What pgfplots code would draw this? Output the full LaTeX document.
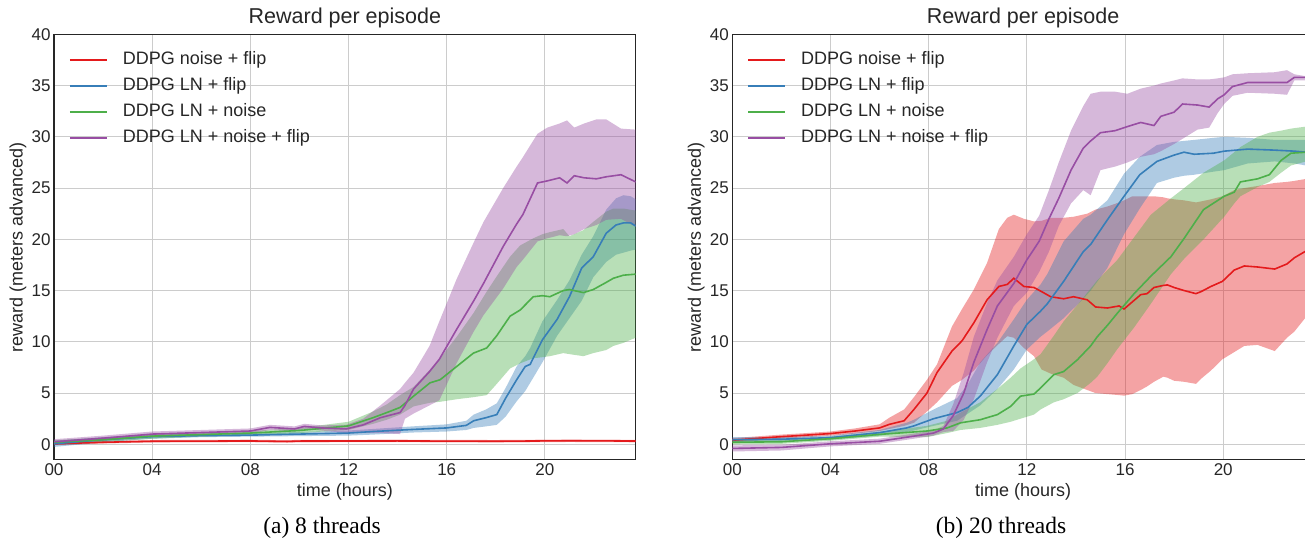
\documentclass[border=0pt]{standalone}
\usepackage{fontspec}
\setmainfont{Liberation Sans}
\newfontfamily\capfont{Liberation Serif}
\usepackage{pgfplots}
\pgfplotsset{compat=1.18}
\usepackage{pgfplotstable}
\usepgfplotslibrary{fillbetween}

\definecolor{cred}{HTML}{E41A1C}
\definecolor{cblue}{HTML}{377EB8}
\definecolor{cgreen}{HTML}{4DAF4A}
\definecolor{cpurple}{HTML}{984EA3}
\definecolor{txt}{HTML}{262626}
\definecolor{gridc}{HTML}{CCCCCC}

% ---- 8 threads: t, lower, mean, upper ----
\pgfplotstableread{
t lo m hi
0 -0.07 0.05 0.17
2 0.08 0.2 0.32
4 0.18 0.3 0.42
8 0.21 0.33 0.45
9.5 0.16 0.28 0.4
10 0.2 0.32 0.44
14 0.21 0.33 0.45
18 0.18 0.3 0.42
21 0.23 0.35 0.47
23.7 0.2 0.32 0.44
}\lRed
\pgfplotstableread{
t lo m hi
0 -0.25 0.05 0.35
2 0.2 0.45 0.7
4 0.55 0.75 0.95
6 0.7 0.85 1.05
8 0.75 0.9 1.1
10 0.8 1.0 1.2
12 0.85 1.1 1.35
13 0.95 1.25 1.5
14.6 1.15 1.45 1.75
16 1.25 1.6 1.95
16.8 1.4 1.85 2.3
17.1 1.6 2.3 2.9
17.6 1.75 2.6 3.4
18.04 1.9 2.9 4.0
18.4 2.7 4.5 5.5
18.85 4.2 6.3 7.6
19.2 5.2 7.6 8.6
19.4 6.0 7.8 9.4
19.9 8.0 10.2 12.0
20.5 10.6 12.2 14.1
21.0 12.3 14.4 16.0
21.5 14.0 17.2 18.5
21.97 16.3 18.3 20.3
22.5 17.8 20.6 22.9
22.9 18.5 21.4 24.0
23.2 18.7 21.6 24.3
23.5 18.9 21.6 24.2
23.7 19.0 21.3 23.9
}\lBlue
\pgfplotstableread{
t lo m hi
0 0.0 0.2 0.4
2 0.25 0.45 0.65
4 0.55 0.8 1.0
6 0.75 0.95 1.15
8 0.85 1.1 1.3
10 1.1 1.35 1.6
12 1.4 1.8 2.2
13 2.0 2.6 3.2
13.56 2.4 3.1 3.9
14.1 2.9 3.6 4.8
14.65 3.7 4.7 5.6
15.32 4.06 6.0 7.3
15.73 4.15 6.3 8.4
16.41 4.4 7.6 10.5
17.09 4.6 8.9 12.8
17.63 4.8 9.4 14.9
18.04 5.9 10.6 16.4
18.58 7.4 12.5 18.3
18.99 7.9 13.1 19.4
19.53 8.4 14.4 20.1
19.9 8.5 14.5 20.5
20.2 8.6 14.4 20.7
20.75 8.9 15.0 21.0
21.0 8.8 15.1 20.3
21.57 8.6 14.8 20.9
21.97 8.9 15.1 21.7
22.5 9.2 15.8 22.7
22.79 9.6 16.2 23.0
23.2 9.9 16.5 23.0
23.7 10.4 16.6 22.8
}\lGreen
\pgfplotstableread{
t lo m hi
0 0.0 0.25 0.5
2 0.35 0.6 0.85
4 0.75 1.0 1.25
6 0.95 1.15 1.4
8 1.05 1.3 1.55
8.8 1.4 1.65 1.9
9.8 1.25 1.5 1.75
10.2 1.5 1.75 2.0
10.9 1.35 1.6 1.85
11.9 1.1 1.5 1.9
12.6 1.1 1.9 2.5
13.3 1.1 2.6 3.8
14.1 1.0 3.1 5.4
14.3 2.5 3.8 6.0
14.65 3.0 5.4 7.0
15.3 3.8 7.1 9.6
15.7 4.3 8.3 12.0
16.4 7.9 11.2 16.1
17.1 11.0 14.0 19.7
17.5 12.6 15.7 21.7
18.3 15.2 19.3 25.0
18.85 17.3 21.5 27.1
19.1 18.0 22.4 28.0
19.7 19.8 25.5 30.3
20.1 20.1 25.7 30.9
20.6 20.4 26.0 31.3
20.9 20.3 25.5 31.6
21.2 20.5 26.2 30.9
21.6 21.0 26.0 31.3
22.1 21.4 25.9 31.7
22.5 21.9 26.1 31.7
23.1 22.0 26.3 30.8
23.7 21.2 25.6 30.7
}\lPurple

% ---- 20 threads ----
\pgfplotstableread{
t lo m hi
0 0.2 0.4 0.6
2 0.55 0.75 0.95
2.7 0.65 0.85 1.05
4 0.85 1.05 1.25
5 1.05 1.3 1.55
6 1.3 1.6 1.95
6.4 1.5 1.95 2.6
7.0 1.8 2.3 3.4
7.4 2.1 3.4 4.6
7.93 3.2 5.0 6.3
8.34 4.1 7.0 7.8
8.95 5.7 9.1 11.5
9.36 6.3 10.1 13.2
9.84 7.2 11.85 15.1
10.38 8.7 14.1 17.7
10.86 9.8 15.4 21.0
11.2 10.55 15.6 22.1
11.47 10.4 16.2 22.4
11.88 9.4 15.4 22.0
12.29 8.6 15.3 21.75
12.6 7.3 14.9 21.8
12.97 6.9 14.4 22.1
13.5 6.5 14.2 22.1
13.9 5.8 14.4 22.2
14.46 5.3 14.1 22.5
14.8 5.0 13.4 22.9
15.28 4.9 13.3 23.2
15.76 4.8 13.5 23.6
15.96 4.75 13.2 23.8
16.3 4.9 13.9 24.2
16.64 5.3 14.6 24.2
16.9 5.65 14.7 24.2
17.18 6.1 15.3 24.2
17.56 6.6 15.5 24.1
17.73 6.5 15.55 24.0
18.0 6.2 15.3 23.9
18.41 6.1 15.0 23.8
18.89 5.9 14.7 23.6
19.1 6.4 14.9 23.7
19.5 7.2 15.4 23.9
19.97 8.3 15.9 24.2
20.45 9.0 17.0 24.8
20.86 9.6 17.4 25.0
21.4 9.7 17.3 25.2
22.1 9.1 17.1 25.5
22.6 10.4 17.6 25.6
22.9 11.0 18.2 25.7
23.4 12.5 18.9 25.9
23.7 13.3 19.3 26.0
}\rRed
\pgfplotstableread{
t lo m hi
0 0.2 0.45 0.7
2 0.3 0.5 0.7
4 0.45 0.65 0.85
6 0.85 1.14 1.4
7.1 1.2 1.6 2.1
7.4 1.35 1.8 2.4
8.2 1.8 2.5 3.4
9.16 2.3 3.1 4.5
9.6 3.0 3.6 5.9
10.1 3.8 4.7 8.0
10.8 5.4 6.8 9.9
11.47 7.3 9.6 12.2
12.0 9.25 11.7 14.1
12.56 10.5 13.0 15.6
12.83 11.0 13.7 16.6
13.5 12.3 15.9 19.8
14.3 14.2 18.8 22.0
14.6 15.0 19.5 22.4
15.28 17.2 21.9 23.8
15.96 20.5 24.2 26.4
16.6 23.0 26.3 28.05
17.3 25.5 27.6 29.2
17.98 26.0 28.2 29.5
18.4 26.2 28.5 29.6
18.82 26.3 28.3 29.7
19.6 26.6 28.4 29.9
20.04 26.75 28.6 30.0
21.0 27.4 28.8 29.9
22.1 27.6 28.7 29.7
22.9 27.4 28.6 29.7
23.38 27.2 28.5 29.7
23.7 27.0 28.4 29.7
}\rBlue
\pgfplotstableread{
t lo m hi
0 0.0 0.2 0.4
2 0.05 0.25 0.45
4 0.35 0.55 0.75
6 0.75 0.97 1.2
7.93 0.7 1.3 1.8
8.75 1.1 1.6 2.3
9.3 1.4 2.1 3.1
10.1 1.6 2.4 4.1
10.8 1.9 2.9 5.4
11.34 2.2 3.7 6.5
11.74 2.5 4.7 7.4
12.29 2.9 4.9 8.3
12.56 3.4 5.5 8.8
13.1 4.1 6.8 10.6
13.5 4.4 7.1 12.0
14.06 5.0 8.25 13.6
14.6 6.0 9.6 15.2
14.87 6.6 10.5 16.0
15.28 7.9 11.6 17.0
15.69 9.3 12.8 18.0
16.37 11.4 14.7 20.2
17.05 13.7 16.4 22.4
17.87 16.6 18.3 24.0
18.41 18.1 20.1 25.0
19.2 20.0 22.9 26.5
20.04 22.2 24.2 27.7
20.45 23.5 24.6 28.5
20.7 24.2 25.6 29.0
21.4 25.1 25.9 30.0
21.88 25.6 26.3 30.4
22.36 26.5 27.7 30.6
22.76 27.2 28.4 30.8
23.38 27.6 28.5 31.0
23.7 27.6 28.5 31.1
}\rGreen
\pgfplotstableread{
t lo m hi
0 -0.7 -0.4 -0.1
2 -0.6 -0.3 -0.05
4 -0.2 0.05 0.3
6 0.05 0.3 0.55
7.4 0.55 0.8 1.05
8.2 0.85 1.1 1.35
8.6 1.2 1.5 1.8
9.0 1.3 2.8 3.9
9.43 2.4 5.0 7.0
9.84 4.4 8.0 10.5
10.38 8.0 11.2 13.8
10.8 10.4 13.5 16.0
11.47 13.5 15.7 18.3
12.0 14.8 18.0 20.5
12.5 16.8 19.8 22.3
12.9 18.8 22.0 24.8
13.3 21.3 24.0 27.5
13.8 23.5 26.75 30.6
14.3 24.8 28.9 33.0
14.6 24.3 29.6 34.2
15.0 26.75 30.4 34.4
15.6 27.1 30.6 34.4
16.1 27.5 31.0 34.2
16.64 28.05 31.4 34.7
17.18 28.3 31.1 35.0
17.46 28.6 32.0 35.2
18.0 29.3 32.4 35.5
18.34 29.8 33.2 35.7
18.95 30.7 33.1 35.6
19.43 30.9 32.9 35.6
19.77 32.3 33.7 35.7
20.04 33.2 34.1 35.8
20.38 34.0 34.9 36.1
21.0 34.3 35.3 36.2
22.1 34.2 35.3 36.3
22.6 34.1 35.3 36.5
22.9 35.5 35.8 36.1
23.4 35.5 35.8 35.9
23.7 35.5 35.8 35.9
}\rPurple

\newcommand{\band}[3]{%
  \addplot[draw=none, name path=#3u, forget plot] table[x=t,y=hi]{#1};
  \addplot[draw=none, name path=#3d, forget plot] table[x=t,y=lo]{#1};
  \addplot[fill=#2, fill opacity=0.4, draw=none, forget plot] fill between[of=#3u and #3d];
}

\pgfplotsset{
  rewardplot/.style={
    set layers,
    scale only axis, width=581.7pt, height=425.4pt,
    xmin=0, xmax=23.7, ymin=-1.5, ymax=40,
    xtick={0,4,...,20}, xticklabels={00,04,08,12,16,20},
    ytick={0,5,...,40},
    grid=major, major grid style={gridc, line width=1pt},
    axis line style={draw=txt, line width=1.2pt},
    major tick length=0pt,
    tick label style={font=\fontsize{17}{17}\selectfont, text=txt},
    /pgf/number format/assume math mode=true,
    title={Reward per episode},
    title style={font=\fontsize{21.5}{21.5}\selectfont, text=txt, anchor=base, yshift=5pt},
    xlabel={time (hours)},
    ylabel={reward (meters advanced)},
    xlabel style={font=\fontsize{18}{18}\selectfont, text=txt, at={(axis description cs:0.5,0)}, anchor=center, yshift=-32pt},
    ylabel style={font=\fontsize{18}{18}\selectfont, text=txt, at={(axis description cs:-0.062,0.5)}, anchor=center},
    legend cell align=left,
    legend style={at={(0.02,0.966)}, anchor=north west, draw=none, fill=none,
      font=\fontsize{18}{18}\selectfont, text=txt, row sep=8pt,
      nodes={inner sep=1pt, text height=12.5pt, text depth=3.5pt},
      /tikz/every odd column/.append style={column sep=14pt}},
    legend image code/.code={\draw[#1, line width=2pt] (0pt,0pt) -- (37pt,0pt);},
  }
}

\begin{document}
\begin{tikzpicture}
\begin{axis}[rewardplot, at={(54pt,-459.7pt)}, anchor=south west]
  \band{\lRed}{cred}{la}
  \band{\lBlue}{cblue}{lb}
  \band{\lGreen}{cgreen}{lc}
  \band{\lPurple}{cpurple}{ld}
  \addplot[cred, line width=1.6pt] table[x=t,y=m]{\lRed};
  \addlegendentry{DDPG noise + flip}
  \addplot[cblue, line width=1.6pt] table[x=t,y=m]{\lBlue};
  \addlegendentry{DDPG LN + flip}
  \addplot[cgreen, line width=1.6pt] table[x=t,y=m]{\lGreen};
  \addlegendentry{DDPG LN + noise}
  \addplot[cpurple, line width=1.6pt] table[x=t,y=m]{\lPurple};
  \addlegendentry{DDPG LN + noise + flip}
\end{axis}

\begin{axis}[rewardplot, at={(732.3pt,-459.7pt)}, anchor=south west]
  \band{\rRed}{cred}{ra}
  \band{\rBlue}{cblue}{rb}
  \band{\rGreen}{cgreen}{rc}
  \band{\rPurple}{cpurple}{rd}
  \addplot[cred, line width=1.6pt] table[x=t,y=m]{\rRed};
  \addlegendentry{DDPG noise + flip}
  \addplot[cblue, line width=1.6pt] table[x=t,y=m]{\rBlue};
  \addlegendentry{DDPG LN + flip}
  \addplot[cgreen, line width=1.6pt] table[x=t,y=m]{\rGreen};
  \addlegendentry{DDPG LN + noise}
  \addplot[cpurple, line width=1.6pt] table[x=t,y=m]{\rPurple};
  \addlegendentry{DDPG LN + noise + flip}
\end{axis}

\node[font=\capfont\fontsize{23.5}{23.5}\selectfont] at (322pt,-528pt) {(a) 8 threads};
\node[font=\capfont\fontsize{23.5}{23.5}\selectfont] at (1001pt,-528pt) {(b) 20 threads};

\pgfresetboundingbox
\path[use as bounding box] (0pt,0pt) rectangle (1305pt,-538pt);
\end{tikzpicture}
\end{document}
